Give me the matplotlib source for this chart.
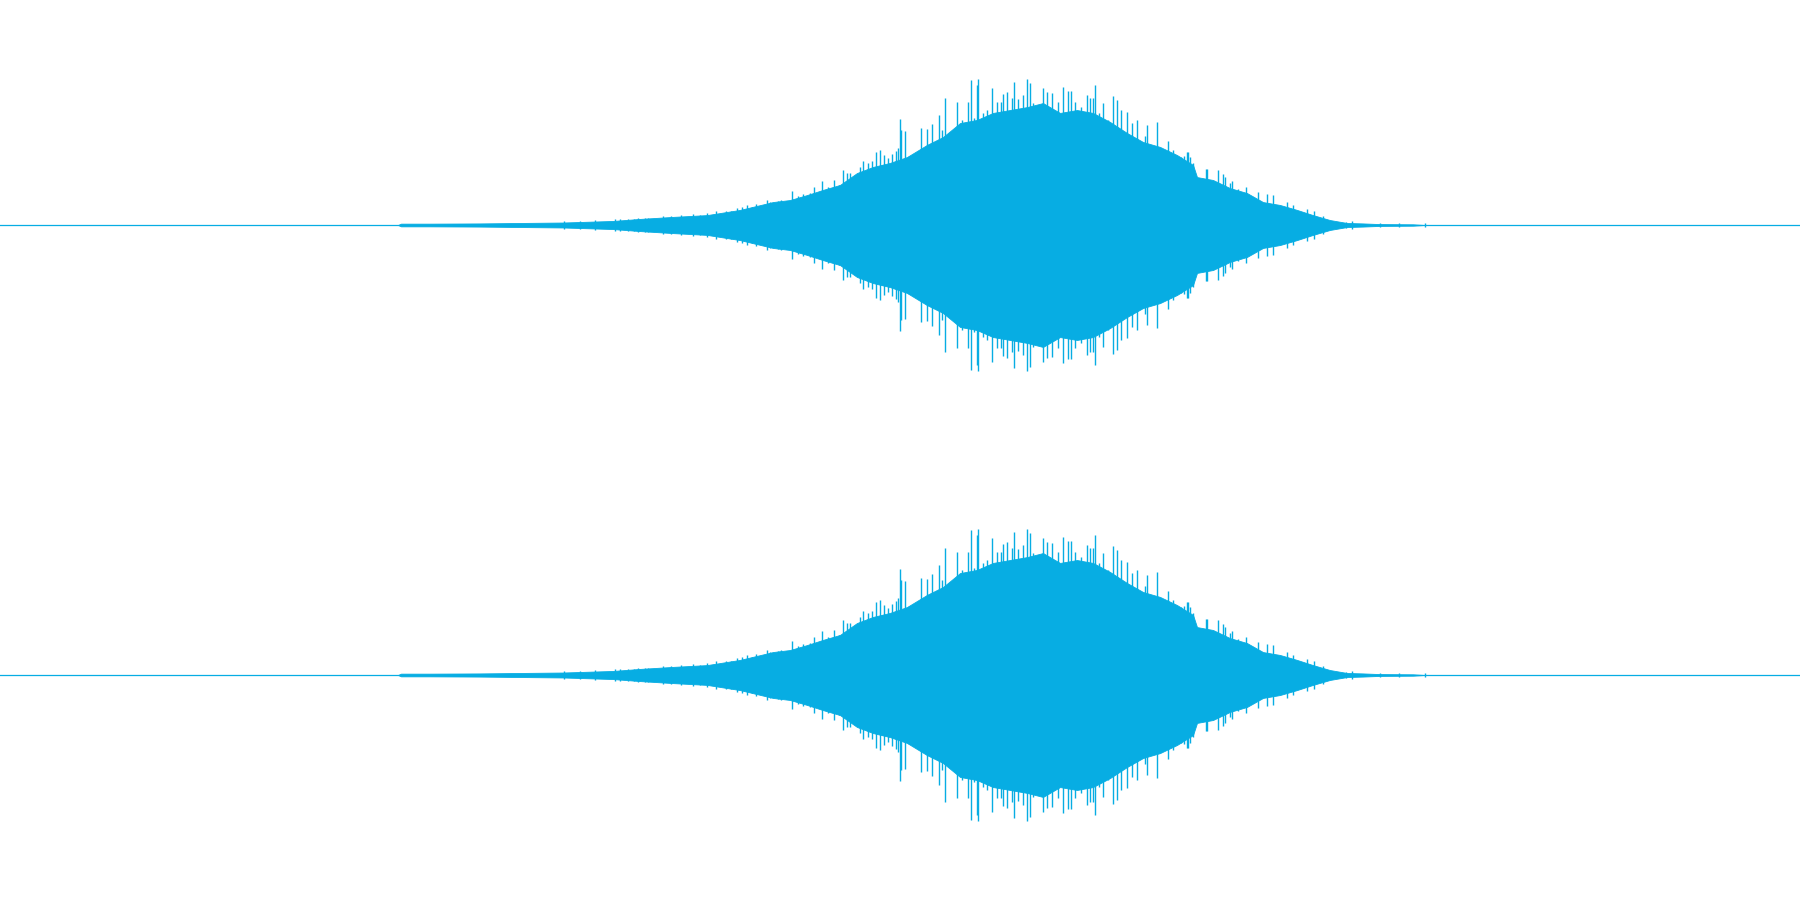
import numpy as np
import matplotlib
matplotlib.use("Agg")
import matplotlib.pyplot as plt

# waveform envelope (x in columns, amplitude as fraction of full scale)
env_pos = [398, 401, 430, 480, 520, 563, 613, 640, 673, 707, 740, 773, 790, 807, 823,
           840, 857, 873, 890, 907, 927, 943, 960, 977, 993, 1010, 1027, 1043, 1060,
           1077, 1093, 1110, 1127, 1143, 1160, 1177, 1193, 1197, 1213, 1230, 1247,
           1263, 1280, 1297, 1313, 1330, 1347, 1363, 1380, 1413, 1425]
env_amp = [0.000, 0.006, 0.006, 0.007, 0.009, 0.011, 0.018, 0.027, 0.036, 0.044, 0.067,
           0.102, 0.111, 0.133, 0.156, 0.178, 0.231, 0.258, 0.276, 0.302, 0.356, 0.391,
           0.453, 0.467, 0.498, 0.511, 0.524, 0.542, 0.498, 0.511, 0.498, 0.458, 0.409,
           0.369, 0.347, 0.311, 0.267, 0.213, 0.200, 0.164, 0.142, 0.102, 0.089, 0.067,
           0.044, 0.022, 0.009, 0.007, 0.004, 0.003, 0.000]

# taller peaks sticking out of the envelope
peak_pos = [693, 716, 737, 747, 756, 767, 781, 792, 803, 814, 822, 834, 843, 850, 863,
            872, 876, 880, 884, 888, 896, 900, 901, 905, 909, 921, 927, 932, 939, 942,
            945, 953, 957, 962, 968, 971, 974, 977, 978, 983, 987, 992, 997, 1001, 1003,
            1007, 1012, 1014, 1018, 1023, 1027, 1030, 1033, 1038, 1043, 1047, 1052, 1058,
            1063, 1068, 1071, 1075, 1081, 1087, 1090, 1093, 1095, 1099, 1103, 1108, 1113,
            1117, 1121, 1127, 1132, 1137, 1145, 1147, 1157, 1168, 1173, 1181, 1184, 1187,
            1188, 1190, 1193, 1207, 1218, 1223, 1232, 1246, 1258, 1267, 1273, 1287, 1307,
            1314]
peak_amp = [0.049, 0.062, 0.076, 0.089, 0.093, 0.111, 0.111, 0.151, 0.138, 0.169, 0.196,
            0.200, 0.244, 0.231, 0.284, 0.284, 0.324, 0.333, 0.311, 0.298, 0.329, 0.471,
            0.422, 0.418, 0.307, 0.431, 0.427, 0.449, 0.489, 0.422, 0.564, 0.400, 0.547,
            0.467, 0.547, 0.644, 0.476, 0.622, 0.649, 0.498, 0.511, 0.609, 0.547, 0.547,
            0.582, 0.591, 0.564, 0.636, 0.560, 0.578, 0.649, 0.631, 0.542, 0.533, 0.609,
            0.591, 0.587, 0.547, 0.613, 0.596, 0.596, 0.547, 0.524, 0.578, 0.564, 0.564,
            0.622, 0.498, 0.542, 0.467, 0.573, 0.556, 0.511, 0.502, 0.453, 0.467, 0.396,
            0.444, 0.458, 0.373, 0.333, 0.302, 0.307, 0.324, 0.324, 0.302, 0.276, 0.249,
            0.244, 0.227, 0.196, 0.169, 0.147, 0.138, 0.133, 0.102, 0.071, 0.062]

# smaller peaks on the rising side
small_pos = [564, 580, 595, 615, 620, 628, 634, 638, 645, 648, 663, 671, 681, 700, 707,
             726, 731, 742, 752, 759, 770, 774, 778, 787, 798, 810, 818, 828, 839, 847,
             853, 860, 868, 882, 892, 898, 1206, 1225, 1230, 1238, 1293, 1323, 1337,
             1346, 1352, 1380, 1399, 1425]
small_amp = [0.018, 0.016, 0.021, 0.025, 0.027, 0.025, 0.027, 0.030, 0.030, 0.033, 0.040,
             0.040, 0.044, 0.044, 0.053, 0.062, 0.062, 0.080, 0.080, 0.080, 0.102, 0.098,
             0.107, 0.107, 0.129, 0.142, 0.138, 0.169, 0.178, 0.231, 0.187, 0.258, 0.276,
             0.267, 0.316, 0.342, 0.249, 0.213, 0.187, 0.160, 0.089, 0.040, 0.013,
             0.013, 0.018, 0.009, 0.009, 0.008]

channels = ["left", "right"]
wave_color = "#07ADE3"

fig = plt.figure(figsize=(18, 9), dpi=100)

for i, ch in enumerate(channels):
    ax = fig.add_axes([0, 0.5 - 0.5 * i, 1, 0.5])
    ax.axhline(0, color=wave_color, lw=0.9)
    ax.fill_between(env_pos, env_amp, [-a for a in env_amp],
                    color=wave_color, lw=0.6, edgecolor=wave_color)
    ax.vlines(peak_pos, [-a for a in peak_amp], peak_amp, color=wave_color, lw=1.0)
    ax.vlines(small_pos, [-a for a in small_amp], small_amp, color=wave_color, lw=1.0)
    ax.set_xlim(0, 1800)
    ax.set_ylim(-1, 1)
    ax.axis("off")

fig.savefig("out.png", dpi=100)
